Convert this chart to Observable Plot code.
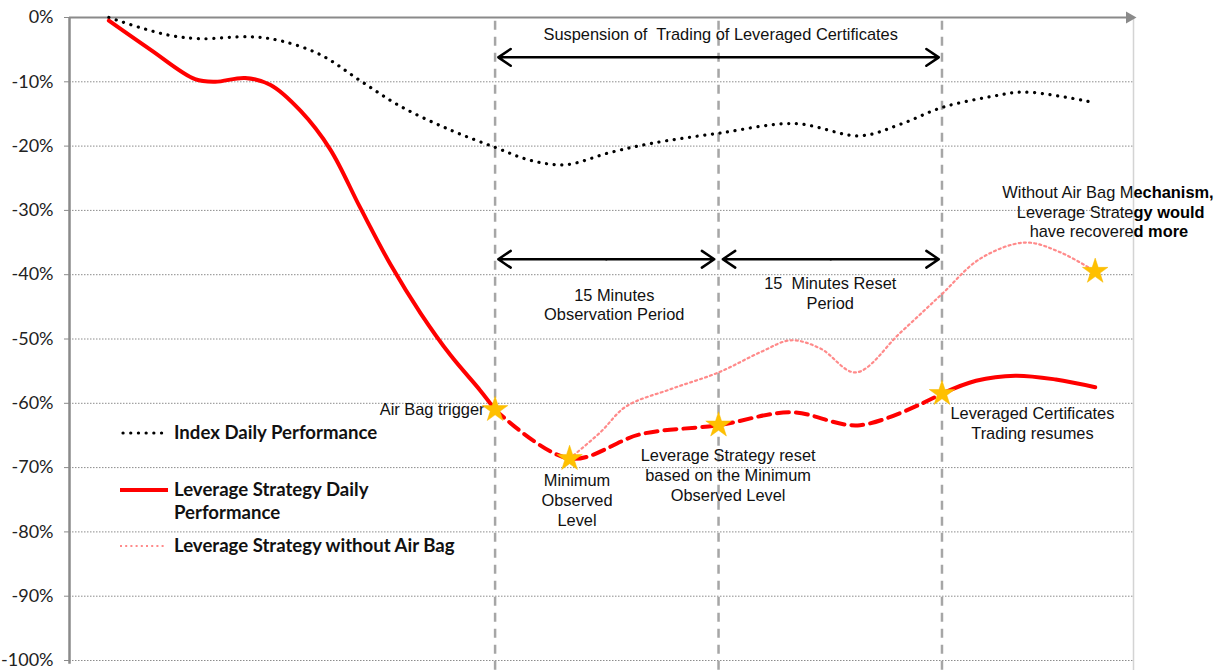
<!DOCTYPE html>
<html><head><meta charset="utf-8">
<script src="https://cdn.jsdelivr.net/npm/d3@7"></script>
<script src="https://cdn.jsdelivr.net/npm/@observablehq/plot@0.6"></script>
<style>
body{margin:0;background:#fff;}
#wrap{position:relative;width:1222px;height:670px;overflow:hidden;}
.lg{position:absolute;left:120px;font-family:Lato,"Open Sans",sans-serif;font-weight:700;font-size:18.6px;color:#111;line-height:23px;white-space:nowrap;}
.lg svg{position:absolute;left:0;}
.lg span{position:absolute;left:54px;}
</style></head><body><div id="wrap"></div>
<script>
// ---- data (x in arbitrary time units, y in %) ----
const yTicks = [0,-10,-20,-30,-40,-50,-60,-70,-80,-90,-100];
const gridTicks = [-10,-20,-30,-40,-50,-60,-70,-80,-90,-100];

const indexX = [3.7,6.7,9.5,12.3,17.0,19.8,23.6,27.3,31.1,35.8,40,43.3,46.6,50.8,54.6,61,68.2,74.3,78.1,82,86.6,89.8,95.9];
const indexY = [0,-1.6,-2.8,-3.3,-3.0,-3.6,-5.8,-9.8,-13.8,-17.5,-20.2,-22.2,-22.9,-21.0,-19.6,-18.0,-16.5,-18.4,-16.6,-14.0,-12.3,-11.6,-13.1];

const levA_X = [3.7,7.6,11.8,13.7,16.5,18.9,21.7,24.5,27.3,30.2,33,35.8,38.6,40];
const levA_Y = [-0.5,-5.0,-9.6,-10.0,-9.4,-10.5,-14.5,-20.5,-29.5,-38.5,-46,-52.5,-58,-61];

const levB_X = [40,47,53.7,61,67.8,74.3,82];
const levB_Y = [-61,-68.6,-64.8,-63.4,-61.4,-63.4,-58.5];

const levC_X = [82,85.2,88.9,92.7,96.4];
const levC_Y = [-58.5,-56.5,-55.7,-56.3,-57.5];

const noBagX = [47,49.9,52.3,56.5,61,65,67.8,70.6,73.9,78.1,82,85.6,89.8,93.1,96.4];
const noBagY = [-68.6,-64.5,-60.5,-57.8,-55.2,-52,-50.2,-51.5,-55.2,-49,-43,-37.5,-35,-36.5,-39.5];

const starX = [40,47,61,82,96.4];
const starY = [-61,-68.6,-63.4,-58.5,-39.5];

const eventX = [40,61,82];

// double-headed arrows: left end, right end, level
const arrowX1 = [40.3,40.3,61.4];
const arrowX2 = [81.7,60.6,81.7];
const arrowY  = [-6.2,-37.6,-37.6];

const noteText = ["Suspension of  Trading of Leveraged Certificates","15 Minutes\nObservation Period","15  Minutes Reset\nPeriod","Minimum\nObserved\nLevel","Leverage Strategy reset\nbased on the Minimum\nObserved Level","Leveraged Certificates\nTrading resumes"];
const noteX = [61.2,51.2,71.5,47.7,61.9,90.5];
const noteY = [-2.5,-44.6,-42.8,-75.0,-71.1,-63.0];

const triggerText = ["Air Bag trigger"];
const triggerX = [39];
const triggerY = [-61];

const wabNormal = ["Without Air Bag M","Leverage Strate","have recovere"];
const wabBold = ["echanism,","gy would","d more"];
const wabY = [-27.2,-30.3,-33.3];

// ---- build rows ----
const rows = (xs, ys) => xs.map((x,i)=>({x, y: ys[i]}));
const notes = noteText.map((t,i)=>({t, x: noteX[i], y: noteY[i]}));
// each double arrow drawn as two half-arrows going outward from its middle
const halfArrows = arrowX1.flatMap((x1,i)=>{
  const m = (x1 + arrowX2[i]) / 2;
  return [{from: m, to: x1, y: arrowY[i]}, {from: m, to: arrowX2[i], y: arrowY[i]}];
});
const wab = wabNormal.map((t,i)=>({t, b: wabBold[i], y: wabY[i]}));

const chart = Plot.plot({
  width: 1222, height: 670,
  marginLeft: 69, marginRight: 89, marginTop: 17, marginBottom: 10,
  x: {domain: [0,100], axis: null},
  y: {domain: [-100,0], axis: null},
  style: {fontFamily: "'Liberation Sans', Arial, sans-serif", fontSize: "16.4px", color: "#111", background: "#fff", overflow: "visible"},
  marks: [
    Plot.ruleY(gridTicks, {stroke: "#8c8c8c", strokeWidth: 1, strokeDasharray: "1.5,1.5"}),
    Plot.ruleX([100], {y1: 0, y2: -101.6, stroke: "#d4d4d4", strokeWidth: 1.5}),
    Plot.ruleX(eventX, {y1: -0.6, y2: -101.6, stroke: "#a6a6a6", strokeWidth: 2.5, strokeDasharray: "9,7"}),
    Plot.ruleY([0], {stroke: "#8a8a8a", strokeWidth: 2}),
    Plot.dot([{x: 100, y: 0}], {x: "x", y: "y", symbol: "triangle", rotate: 90, r: 4.5, fill: "#8a8a8a", dx: -4}),
    Plot.ruleX([0], {y1: 0, y2: -100.6, stroke: "#8a8a8a", strokeWidth: 2.5}),
    Plot.axisY({ticks: yTicks, tickFormat: d => d + "%", tickSize: 5, tickPadding: 11, stroke: "#8a8a8a", fill: "#222", fontSize: 18, fontFamily: "Lato, sans-serif", label: null}),
    Plot.line(rows(noBagX, noBagY), {x: "x", y: "y", curve: "catmull-rom", stroke: "#ff8a8a", strokeWidth: 2.2, strokeDasharray: "2,3.2"}),
    Plot.line(rows(indexX, indexY), {x: "x", y: "y", curve: "catmull-rom", stroke: "#000", strokeWidth: 3.2, strokeDasharray: "0.1,7.6", strokeLinecap: "round"}),
    Plot.line(rows(levA_X, levA_Y), {x: "x", y: "y", curve: "catmull-rom", stroke: "#ff0000", strokeWidth: 4}),
    Plot.line(rows(levB_X, levB_Y), {x: "x", y: "y", curve: "catmull-rom", stroke: "#ff0000", strokeWidth: 4, strokeDasharray: "12,7"}),
    Plot.line(rows(levC_X, levC_Y), {x: "x", y: "y", curve: "catmull-rom", stroke: "#ff0000", strokeWidth: 4}),
    Plot.arrow(halfArrows, {x1: "from", x2: "to", y1: "y", y2: "y", stroke: "#000", strokeWidth: 2.5, headLength: 9, headAngle: 68}),
    Plot.text(notes, {x: "x", y: "y", text: "t", lineHeight: 1.2, fill: "#111"}),
    Plot.text(rows(triggerX, triggerY).map((d,i)=>({...d, t: triggerText[i]})), {x: "x", y: "y", text: "t", textAnchor: "end", fill: "#111"}),
    Plot.text(wab, {x: () => 100, y: "y", text: "t", textAnchor: "end", fill: "#111"}),
    Plot.text(wab, {x: () => 100, y: "y", text: "b", textAnchor: "start", fill: "#000", fontWeight: "bold"}),
    Plot.dot(rows(starX, starY), {x: "x", y: "y", symbol: "star", r: 8, fill: "#ffc000", stroke: "#f5b800", strokeWidth: 0.5})
  ]
});

const wrap = document.getElementById("wrap");
wrap.appendChild(chart);

// ---- legend ----
const legendItems = [
  {label: "Index Daily Performance", top: 421, swatch: '<line x1="3" y1="12" x2="46" y2="12" stroke="#000" stroke-width="3.2" stroke-dasharray="0.1,7.6" stroke-linecap="round"/>'},
  {label: "Leverage Strategy Daily<br>Performance", top: 478, swatch: '<line x1="0" y1="12" x2="48" y2="12" stroke="#ff0000" stroke-width="4"/>'},
  {label: "Leverage Strategy without Air Bag", top: 534, swatch: '<line x1="0" y1="12" x2="46" y2="12" stroke="#ff8a8a" stroke-width="2.2" stroke-dasharray="2,3.2"/>'}
];
for (const it of legendItems) {
  const d = document.createElement("div");
  d.className = "lg";
  d.style.top = it.top + "px";
  d.innerHTML = '<svg width="50" height="24">' + it.swatch + '</svg><span>' + it.label + '</span>';
  wrap.appendChild(d);
}
</script>
</body></html>
